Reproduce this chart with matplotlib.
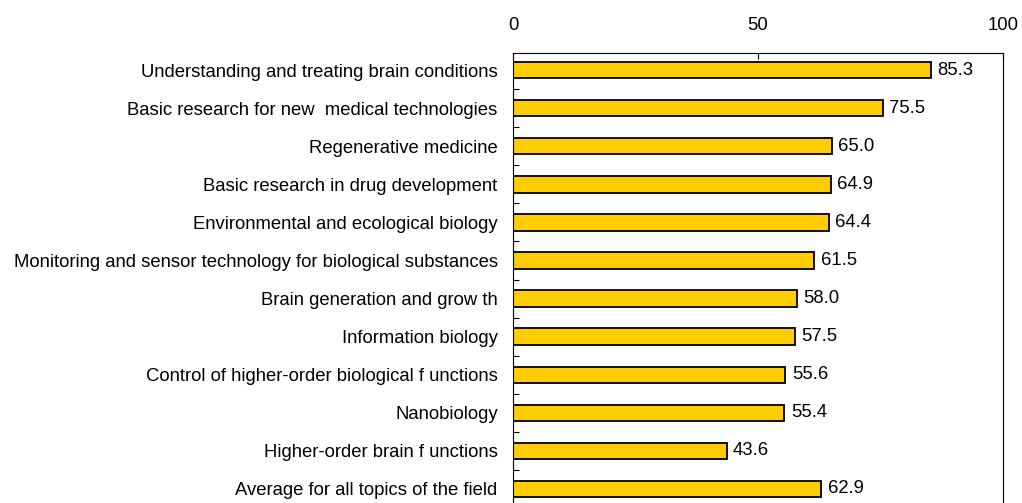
import numpy as np
import matplotlib.pyplot as plt

plt.rcParams['font.family'] = ['Liberation Sans', 'DejaVu Sans']

topics = [
    'Understanding and treating brain conditions',
    'Basic research for new  medical technologies',
    'Regenerative medicine',
    'Basic research in drug development',
    'Environmental and ecological biology',
    'Monitoring and sensor technology for biological substances',
    'Brain generation and grow th',
    'Information biology',
    'Control of higher-order biological f unctions',
    'Nanobiology',
    'Higher-order brain f unctions',
    'Average for all topics of the field',
]
scores = [85.3, 75.5, 65.0, 64.9, 64.4, 61.5, 58.0, 57.5, 55.6, 55.4, 43.6, 62.9]
x_ticks = [0, 50, 100]

fs = 13.3
fig = plt.figure(figsize=(10.22, 5.03), dpi=100)
ax = fig.add_axes([513 / 1022, -5 / 503, 490 / 1022, 455 / 503])

y = np.arange(len(topics))
ax.barh(y, scores, height=0.43, color='#FFCC00', edgecolor='black', linewidth=1.3)
for yi, v in zip(y, scores):
    ax.text(v + 1.3, yi, f'{v:.1f}', va='center', ha='left', fontsize=fs)

ax.set_xlim(0, 100)
ax.set_ylim(11.5, -0.45)
ax.set_xticks(x_ticks)
ax.xaxis.tick_top()
ax.tick_params(axis='x', direction='in', length=4, pad=14, labelsize=fs, width=0.8)
ax.set_yticks(y)
ax.set_yticklabels(topics, fontsize=fs)
ax.tick_params(axis='y', which='major', length=0, pad=11)
ax.set_yticks(np.arange(0.5, len(topics), 1), minor=True)
ax.tick_params(axis='y', which='minor', direction='in', length=4, width=0.8)
for s in ax.spines.values():
    s.set_linewidth(0.8)

fig.savefig('out.png', dpi=100)
